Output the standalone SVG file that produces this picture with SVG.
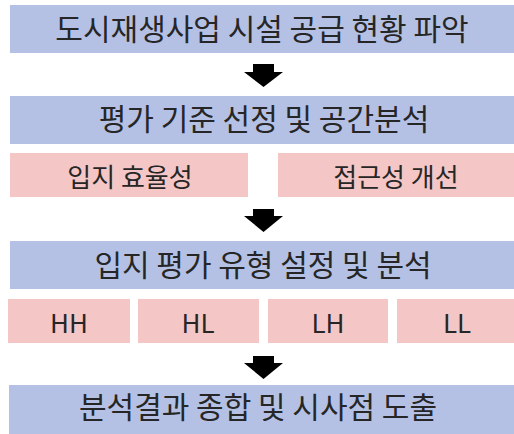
<svg xmlns="http://www.w3.org/2000/svg" width="514" height="434" viewBox="0 0 514 434">
<style>
.blue{fill:#b4c1e5}
.pink{fill:#f5c6c6}
.t{font-family:"Noto Sans CJK KR","Noto Sans",sans-serif;fill:#262626;text-anchor:middle}
.big{font-size:30px}
.mid{font-size:26px}
.arr{fill:#000}
</style>
<rect width="514" height="434" fill="#fff"/>
<g id="n1"><rect class="blue" x="10" y="5" width="504" height="48"/><text class="t big" x="262" y="40">도시재생사업 시설 공급 현황 파악</text></g>
<g id="n2"><rect class="blue" x="10" y="96" width="504" height="48"/><text class="t big" x="264" y="130">평가 기준 선정 및 공간분석</text></g>
<g id="n3"><rect class="pink" x="10" y="153" width="238" height="44"/><text class="t mid" x="130" y="187">입지 효율성</text></g>
<g id="n4"><rect class="pink" x="278" y="153" width="236" height="44"/><text class="t mid" x="396" y="187">접근성 개선</text></g>
<g id="n5"><rect class="blue" x="10" y="241" width="504" height="48"/><text class="t big" x="263" y="276">입지 평가 유형 설정 및 분석</text></g>
<g id="n6"><rect class="pink" x="8" y="299" width="122" height="44"/><text class="t mid" x="69" y="333">HH</text></g>
<g id="n7"><rect class="pink" x="138" y="299" width="121" height="44"/><text class="t mid" x="198" y="333">HL</text></g>
<g id="n8"><rect class="pink" x="268" y="299" width="120" height="44"/><text class="t mid" x="328" y="333">LH</text></g>
<g id="n9"><rect class="pink" x="397" y="299" width="117" height="44"/><text class="t mid" x="457" y="333">LL</text></g>
<g id="n10"><rect class="blue" x="9" y="385" width="505" height="49"/><text class="t big" x="258" y="418">분석결과 종합 및 시사점 도출</text></g>
<g id="connectors">
<polygon class="arr" points="253,64 274,64 274,72 283,72 263.5,87 244,72 253,72"/>
<polygon class="arr" points="253,209 274,209 274,216 283,216 263.5,232 244,216 253,216"/>
<polygon class="arr" points="253,356 274,356 274,363 283,363 263.5,379 244,363 253,363"/>
</g>
</svg>
